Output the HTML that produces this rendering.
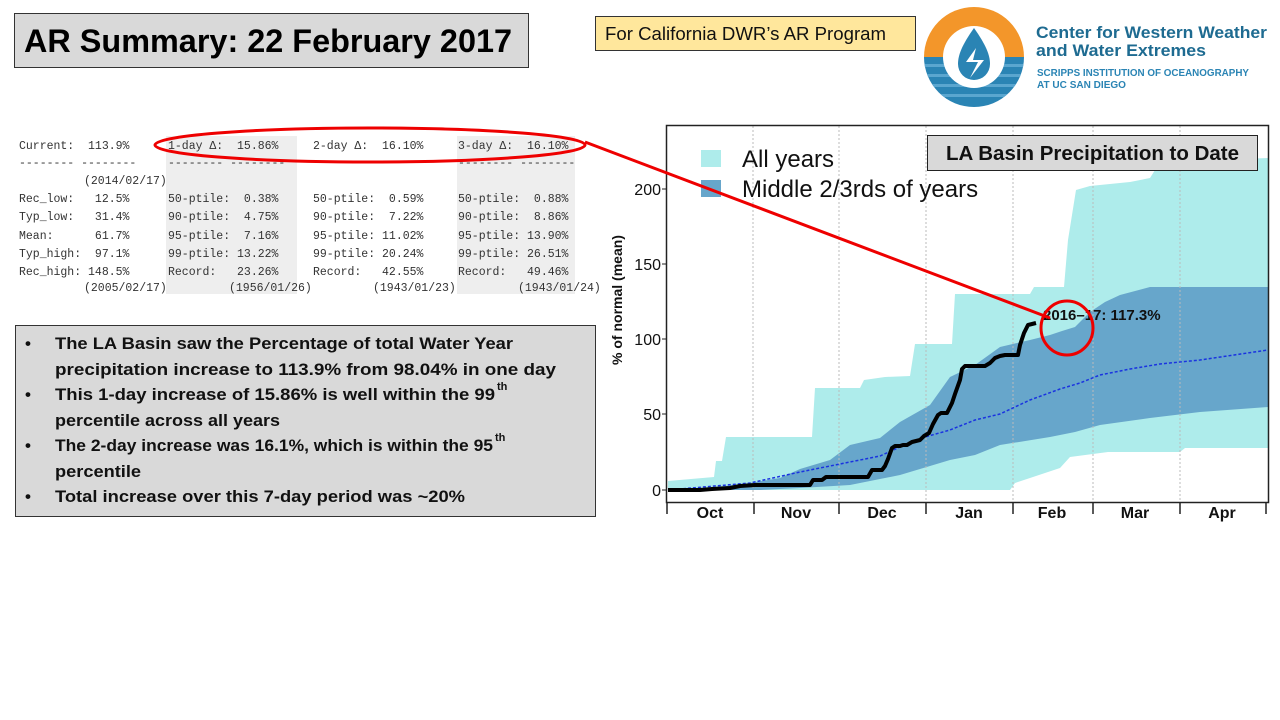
<!DOCTYPE html>
<html><head><meta charset="utf-8"><style>
html,body{margin:0;padding:0;background:#fff;}
svg{display:block;}
text{font-family:"Liberation Sans",sans-serif;}
.m text{font-family:"Liberation Mono",monospace;font-size:11.5px;fill:#333;white-space:pre;}
.b text{font-size:17px;font-weight:bold;fill:#111;}
.tk text{font-size:16px;fill:#111;}
.mo text{font-size:16px;font-weight:bold;fill:#111;}
</style></head><body>
<svg width="1280" height="720" viewBox="0 0 1280 720" xmlns="http://www.w3.org/2000/svg" xml:space="preserve">
<rect x="14.5" y="13.5" width="514" height="54" fill="#d9d9d9" stroke="#333"/>
<text x="24" y="52" font-size="32" font-weight="bold" fill="#000" textLength="488" lengthAdjust="spacingAndGlyphs">AR Summary: 22 February 2017</text>
<rect x="595.5" y="16.5" width="320" height="34" fill="#ffe79c" stroke="#333"/>
<text x="605" y="40" font-size="18" fill="#111" textLength="281" lengthAdjust="spacingAndGlyphs">For California DWR’s AR Program</text>
<defs><clipPath id="lc"><circle cx="974" cy="57" r="50"/></clipPath></defs>
<g clip-path="url(#lc)">
<rect x="920" y="5" width="110" height="52" fill="#f3962a"/>
<rect x="920" y="57" width="110" height="55" fill="#2a84b4"/>
<rect x="920" y="64" width="110" height="3" fill="#5aa6cf"/>
<rect x="920" y="74" width="110" height="3" fill="#5aa6cf"/>
<rect x="920" y="84" width="110" height="3" fill="#5aa6cf"/>
<rect x="920" y="94" width="110" height="3" fill="#5aa6cf"/>
</g>
<circle cx="974" cy="57" r="31" fill="#fff"/>
<path d="M974 28 C962 45 958 55 958 64 A16 16 0 0 0 990 64 C990 55 986 45 974 28Z" fill="#2a84b4"/>
<path d="M976 48 L966 62 L978 62 L970 78 L984 60 L973 60 Z" fill="#fff"/>
<text x="1036" y="38" font-size="17" font-weight="bold" fill="#1e6b91" textLength="231" lengthAdjust="spacingAndGlyphs">Center for Western Weather</text>
<text x="1036" y="56" font-size="17" font-weight="bold" fill="#1e6b91" textLength="170" lengthAdjust="spacingAndGlyphs">and Water Extremes</text>
<text x="1037" y="76" font-size="10.5" font-weight="bold" fill="#2a84b4" textLength="212" lengthAdjust="spacingAndGlyphs">SCRIPPS INSTITUTION OF OCEANOGRAPHY</text>
<text x="1037" y="88" font-size="10.5" font-weight="bold" fill="#2a84b4" textLength="89" lengthAdjust="spacingAndGlyphs">AT UC SAN DIEGO</text>

<rect x="166" y="136" width="131" height="158" fill="#eeeeee"/>
<rect x="457" y="136" width="118" height="158" fill="#eeeeee"/>
<g class="m">
<text x="19" y="149">Current:  113.9%</text>
<text x="19" y="166">-------- --------</text>
<text x="84" y="184">(2014/02/17)</text>
<text x="19" y="202">Rec_low:   12.5%</text>
<text x="19" y="220">Typ_low:   31.4%</text>
<text x="19" y="239">Mean:      61.7%</text>
<text x="19" y="257">Typ_high:  97.1%</text>
<text x="19" y="275">Rec_high: 148.5%</text>
<text x="84" y="291">(2005/02/17)</text>
<text x="168" y="149">1-day Δ:  15.86%</text>
<text x="168" y="166">-------- --------</text>
<text x="168" y="202">50-ptile:  0.38%</text>
<text x="168" y="220">90-ptile:  4.75%</text>
<text x="168" y="239">95-ptile:  7.16%</text>
<text x="168" y="257">99-ptile: 13.22%</text>
<text x="168" y="275">Record:   23.26%</text>
<text x="229" y="291">(1956/01/26)</text>
<text x="313" y="149">2-day Δ:  16.10%</text>
<text x="313" y="202">50-ptile:  0.59%</text>
<text x="313" y="220">90-ptile:  7.22%</text>
<text x="313" y="239">95-ptile: 11.02%</text>
<text x="313" y="257">99-ptile: 20.24%</text>
<text x="313" y="275">Record:   42.55%</text>
<text x="373" y="291">(1943/01/23)</text>
<text x="458" y="149">3-day Δ:  16.10%</text>
<text x="458" y="166">-------- --------</text>
<text x="458" y="202">50-ptile:  0.88%</text>
<text x="458" y="220">90-ptile:  8.86%</text>
<text x="458" y="239">95-ptile: 13.90%</text>
<text x="458" y="257">99-ptile: 26.51%</text>
<text x="458" y="275">Record:   49.46%</text>
<text x="518" y="291">(1943/01/24)</text>
</g>

<rect x="15.5" y="325.5" width="580" height="191" fill="#d9d9d9" stroke="#333"/>
<g class="b">
<text x="25" y="349">•</text><text x="55" y="349" textLength="458" lengthAdjust="spacingAndGlyphs">The LA Basin saw the Percentage of total Water Year</text>
<text x="55" y="375" textLength="501" lengthAdjust="spacingAndGlyphs">precipitation increase to 113.9% from 98.04% in one day</text>
<text x="25" y="400">•</text><text x="55" y="400" textLength="440" lengthAdjust="spacingAndGlyphs">This 1-day increase of 15.86% is well within the 99</text><text x="497" y="390" style="font-size:11px">th</text>
<text x="55" y="426" textLength="225" lengthAdjust="spacingAndGlyphs">percentile across all years</text>
<text x="25" y="451">•</text><text x="55" y="451" textLength="438" lengthAdjust="spacingAndGlyphs">The 2-day increase was 16.1%, which is within the 95</text><text x="495" y="441" style="font-size:11px">th</text>
<text x="55" y="477" textLength="86" lengthAdjust="spacingAndGlyphs">percentile</text>
<text x="25" y="502">•</text><text x="55" y="502" textLength="410" lengthAdjust="spacingAndGlyphs">Total increase over this 7-day period was ~20%</text>
</g>

<polygon fill="#aeeceb" points="668,481 714,477 716,461 722,461 726,437 812,437 815,388 860,388 864,380 885,377 910,376 915,344 952,344 955,294 1030,294 1034,287 1064,287 1068,240 1076,190 1090,186 1130,182 1150,178 1160,162 1268,158 1268,448 1185,448 1180,452 1108,452 1070,457 1060,468 1030,478 1015,483 1010,490 668,490"/>
<polygon fill="#67a6cb" points="668,490 700,489 750,483 780,478 800,469 830,460 850,445 880,438 900,422 930,405 950,377 975,365 1000,347 1030,340 1050,335 1062,331 1075,327 1090,312 1105,302 1120,295 1150,287 1268,287 1268,407 1200,412 1150,418 1100,425 1075,432 1050,437 1000,445 975,455 950,460 900,475 850,485 800,488 760,490 668,490"/>
<g stroke="#bbb" stroke-dasharray="2,2" stroke-width="1">
<line x1="753" y1="126" x2="753" y2="502"/><line x1="839" y1="126" x2="839" y2="502"/><line x1="926" y1="126" x2="926" y2="502"/><line x1="1013" y1="126" x2="1013" y2="502"/><line x1="1093" y1="126" x2="1093" y2="502"/><line x1="1180" y1="126" x2="1180" y2="502"/>
</g>
<polyline fill="none" stroke="#1a33e0" stroke-width="1.5" stroke-dasharray="3,2" points="668,490 750,483 800,472 850,462 880,456 900,447 925,437 950,430 975,420 1000,414 1030,400 1060,389 1080,383 1100,375 1130,369 1160,364 1200,360 1268,350"/>
<polyline fill="none" stroke="#000" stroke-width="4" stroke-linejoin="round" points="668,490 700,490 712,489 730,488 740,486 755,485 810,485 813,480 822,480 826,477 868,477 872,470 882,470 885,466 888,459 892,448 895,446 900,446 903,445 907,445 912,442 920,440 924,436 929,433 933,424 938,415 941,413 947,413 952,403 955,394 960,380 962,369 965,366 985,366 990,363 995,358 1000,356 1005,355 1012,355 1018,355 1020,345 1024,333 1028,325 1036,323"/>
<text x="1043" y="320" font-size="15" font-weight="bold" fill="#111">2016–17: 117.3%</text>
<rect x="666.5" y="125.5" width="602" height="377" fill="none" stroke="#222" stroke-width="1.5"/>
<g stroke="#222"><line x1="662" y1="490" x2="666" y2="490"/><line x1="662" y1="414" x2="666" y2="414"/><line x1="662" y1="339" x2="666" y2="339"/><line x1="662" y1="264" x2="666" y2="264"/><line x1="662" y1="189" x2="666" y2="189"/></g>
<g class="tk" text-anchor="end">
<text x="661" y="496">0</text><text x="661" y="420">50</text><text x="661" y="345">100</text><text x="661" y="270">150</text><text x="661" y="195">200</text>
</g>
<text transform="translate(622,300) rotate(-90)" font-size="14" font-weight="bold" fill="#111" text-anchor="middle">% of normal (mean)</text>
<g stroke="#222" stroke-width="1.5"><line x1="667" y1="502" x2="667" y2="514"/><line x1="754" y1="502" x2="754" y2="514"/><line x1="839" y1="502" x2="839" y2="514"/><line x1="926" y1="502" x2="926" y2="514"/><line x1="1013" y1="502" x2="1013" y2="514"/><line x1="1093" y1="502" x2="1093" y2="514"/><line x1="1180" y1="502" x2="1180" y2="514"/><line x1="1266" y1="502" x2="1266" y2="514"/></g>
<g class="mo" text-anchor="middle">
<text x="710" y="518">Oct</text><text x="796" y="518">Nov</text><text x="882" y="518">Dec</text><text x="969" y="518">Jan</text><text x="1052" y="518">Feb</text><text x="1135" y="518">Mar</text><text x="1222" y="518">Apr</text>
</g>
<rect x="701" y="150" width="20" height="17" fill="#aeeceb"/>
<rect x="701" y="180" width="20" height="17" fill="#67a6cb"/>
<text x="742" y="167" font-size="24" fill="#111">All years</text>
<text x="742" y="197" font-size="24" fill="#111">Middle 2/3rds of years</text>
<rect x="927.5" y="135.5" width="330" height="35" fill="#d9d9d9" stroke="#222"/>
<text x="946" y="160" font-size="20" font-weight="bold" fill="#111" textLength="293" lengthAdjust="spacingAndGlyphs">LA Basin Precipitation to Date</text>

<ellipse cx="370" cy="145" rx="215" ry="17" fill="none" stroke="#e00" stroke-width="3"/>
<line x1="585" y1="142" x2="1050" y2="318" stroke="#e00" stroke-width="3"/>
<ellipse cx="1067" cy="328" rx="26" ry="27" fill="none" stroke="#e00" stroke-width="3"/>
</svg>
</body></html>
